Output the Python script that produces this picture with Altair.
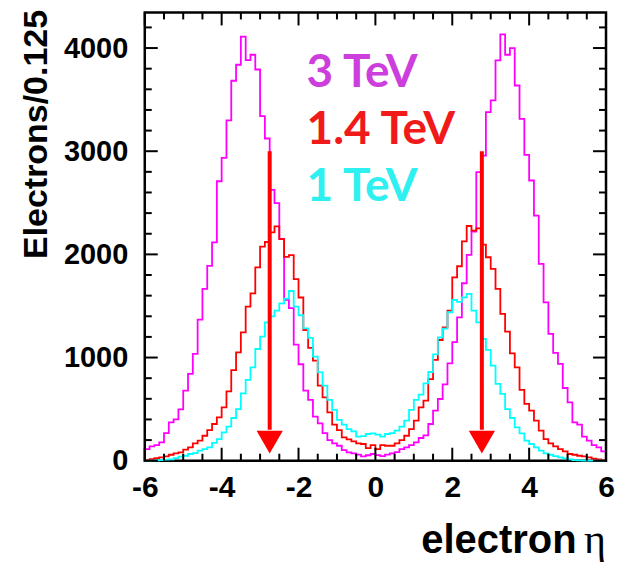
import altair as alt
import numpy as np
import pandas as pd

# ---- data (counts per 0.125 bin, eta from -6 to 6) ----
series_names = ["3 TeV", "1.4 TeV", "1 TeV"]
series_colors = ["#ff00ff", "#ff0000", "#00ffff"]
label_colors = ["#cc3fdc", "#f01a1a", "#2ff0f0"]

counts_3tev = [113, 139, 152, 178, 268, 372, 401, 498, 679, 841, 1035, 1368, 1665, 1888, 2117, 2709,
               2936, 3298, 3683, 3838, 4110, 3883, 3935, 3792, 3340, 3123, 2626, 2496, 2150, 1560, 1480, 1125,
               935, 679, 589, 427, 362, 268, 200, 168, 145, 103, 81, 71, 59, 42, 53, 65,
               55, 45, 59, 71, 84, 113, 130, 152, 178, 220, 246, 356, 485, 598, 740, 944,
               1150, 1390, 1720, 1995, 2220, 2797, 2958, 3379, 3492, 3880, 4132, 3935, 4000, 3637, 3314, 2964,
               2716, 2376, 1908, 1535, 1229, 1045, 938, 705, 566, 372, 349, 233, 194, 152, 129, 90]

counts_14tev = [5, 15, 26, 32, 42, 58, 71, 81, 107, 129, 168, 194, 242, 297, 356, 420,
                517, 672, 879, 1050, 1244, 1494, 1623, 1875, 2076, 2120, 2214, 2272, 2147, 1975, 1993, 1760,
                1582, 1267, 1093, 970, 727, 614, 469, 349, 297, 226, 207, 187, 168, 162, 123, 152,
                113, 152, 145, 145, 168, 200, 242, 307, 388, 517, 582, 790, 977, 1170, 1293, 1455,
                1778, 1885, 2127, 2275, 2230, 2253, 2095, 1972, 1859, 1665, 1423, 1251, 1041, 905, 686, 550,
                485, 388, 291, 210, 168, 139, 113, 90, 65, 58, 48, 42, 32, 19, 13, 6]

counts_1tev = [0, 1, 3, 6, 10, 13, 26, 39, 48, 65, 74, 97, 113, 129, 172, 210,
               275, 330, 414, 501, 653, 783, 905, 1083, 1203, 1341, 1400, 1455, 1526, 1572, 1645, 1494,
               1410, 1283, 1190, 1009, 857, 727, 589, 492, 395, 349, 307, 284, 233, 239, 259, 265,
               252, 233, 259, 268, 291, 330, 388, 492, 589, 640, 750, 860, 1030, 1196, 1280, 1439,
               1558, 1540, 1584, 1617, 1455, 1341, 1180, 1074, 921, 744, 647, 501, 414, 323, 265, 194,
               162, 129, 97, 71, 58, 45, 32, 23, 13, 6, 3, 2, 1, 0, 0, 0]

eta_min, eta_max, bin_width = -6.0, 6.0, 0.125
arrow_eta = [-2.75, 2.77]
arrow_top = 3000
arrow_base = 300
arrow_head = 181

x_tick_labels = [-6, -4, -2, 0, 2, 4, 6]
x_minor = [-5.5, -5, -4.5, -3.5, -3, -2.5, -1.5, -1, -0.5, 0.5, 1, 1.5, 2.5, 3, 3.5, 4.5, 5, 5.5]
y_tick_labels = [0, 1000, 2000, 3000, 4000]
y_minor = [200, 400, 600, 800, 1200, 1400, 1600, 1800, 2200, 2400, 2600, 2800,
           3200, 3400, 3600, 3800, 4200]
y_max = 4345

# ---- build tables ----
edges = eta_min + bin_width * np.arange(97)
rows = []
for name, vals in zip(series_names, [counts_3tev, counts_14tev, counts_1tev]):
    ext = list(vals) + [vals[-1]]
    for e, v in zip(edges, ext):
        rows.append({"eta": float(e), "count": v, "series": name})
hist = pd.DataFrame(rows)

W, H = 462, 449
xs = alt.Scale(domain=[eta_min, eta_max], nice=False, zero=False)
ys = alt.Scale(domain=[0, y_max], nice=False, zero=False)

FONT = "Liberation Sans"

x_axis = alt.Axis(values=x_tick_labels, ticks=False, tickSize=0, domain=False, grid=False,
                  labelFont=FONT, labelFontSize=30, labelFontWeight="bold", labelColor="black",
                  labelPadding=12, labelExpr="'' + datum.value", labelFlush=False,
                  labelOverlap=False,
                  title="electron", titleFont=FONT, titleFontSize=40, titleFontWeight="bold",
                  titleColor="black", titleAlign="right", titleAnchor="end",
                  titleX=432, titleY=92, titleBaseline="alphabetic")
y_axis = alt.Axis(values=y_tick_labels, ticks=False, tickSize=0, domain=False, grid=False,
                  labelFont=FONT, labelFontSize=29, labelFontWeight="bold", labelColor="black",
                  labelPadding=17, format="d", labelFlush=False, labelOverlap=False,
                  title="Electrons/0.125", titleFont=FONT, titleFontSize=34, titleFontWeight="bold",
                  titleColor="black", titleAngle=270, titleAlign="right", titleBaseline="middle",
                  titleX=-108, titleY=-3)

lines = alt.Chart(hist).mark_line(interpolate="step-after", strokeWidth=1.8).encode(
    x=alt.X("eta:Q", scale=xs, axis=x_axis),
    y=alt.Y("count:Q", scale=ys, axis=y_axis),
    color=alt.Color("series:N", scale=alt.Scale(domain=series_names, range=series_colors), legend=None),
    order=alt.Order("eta:Q"),
)

arrows_df = pd.DataFrame({"eta": arrow_eta, "top": [arrow_top] * 2, "base": [arrow_base] * 2,
                          "head": [arrow_head] * 2})
arrow_lines = alt.Chart(arrows_df).mark_rule(color="#ff0000", strokeWidth=4).encode(
    x=alt.X("eta:Q", scale=xs), y=alt.Y("top:Q", scale=ys), y2="base:Q")
arrow_heads = alt.Chart(arrows_df).mark_point(shape="triangle-down", filled=True, size=690,
                                              color="#ff0000", opacity=1).encode(
    x=alt.X("eta:Q", scale=xs), y=alt.Y("head:Q", scale=ys))

# inward ticks
def yt(vals, length, side):
    df = pd.DataFrame({"v": vals})
    if side == "left":
        xa, xb = 0, length
    else:
        xa, xb = W - length, W
    return alt.Chart(df).mark_rule(color="black", strokeWidth=2).encode(
        y=alt.Y("v:Q", scale=ys), x=alt.value(xa), x2=alt.value(xb))

def xt(vals, length, side):
    df = pd.DataFrame({"v": vals})
    if side == "bottom":
        ya, yb = H, H - length
    else:
        ya, yb = 0, length
    return alt.Chart(df).mark_rule(color="black", strokeWidth=2).encode(
        x=alt.X("v:Q", scale=xs), y=alt.value(ya), y2=alt.value(yb))

ticks = [yt(y_tick_labels, 13, "left"), yt(y_minor, 7, "left"),
         yt(y_tick_labels, 13, "right"), yt(y_minor, 7, "right"),
         xt(x_tick_labels, 13, "bottom"), xt(x_minor, 7, "bottom"),
         xt(x_tick_labels, 13, "top"), xt(x_minor, 7, "top")]

labels_df = pd.DataFrame({"label": series_names, "color": label_colors, "row": [0, 1, 2]})
label_layers = []
for i, (name, col) in enumerate(zip(series_names, label_colors)):
    label_layers.append(
        alt.Chart(labels_df[labels_df["row"] == i]).mark_text(
            font="Lato", fontSize=46, fontWeight="bold", color=col, align="left",
            baseline="alphabetic").encode(
            text="label:N", x=alt.value(162), y=alt.value(75 + 57 * i)))

eta_df = pd.DataFrame({"t": ["\u03b7"]})
eta_text = alt.Chart(eta_df).mark_text(font="Liberation Serif", fontSize=42, color="black",
                                       align="left", baseline="alphabetic").encode(
    text="t:N", x=alt.value(440), y=alt.value(541))

chart = alt.layer(lines, *ticks, arrow_lines, arrow_heads, *label_layers, eta_text).properties(
    width=W, height=H,
    autosize=alt.AutoSizeParams(type="none"),
    padding={"left": 137, "top": 4, "right": 10, "bottom": 105},
).configure_view(stroke="black", strokeWidth=2.5)

chart.save("out.html", embed_options={"renderer": "svg", "actions": False})
